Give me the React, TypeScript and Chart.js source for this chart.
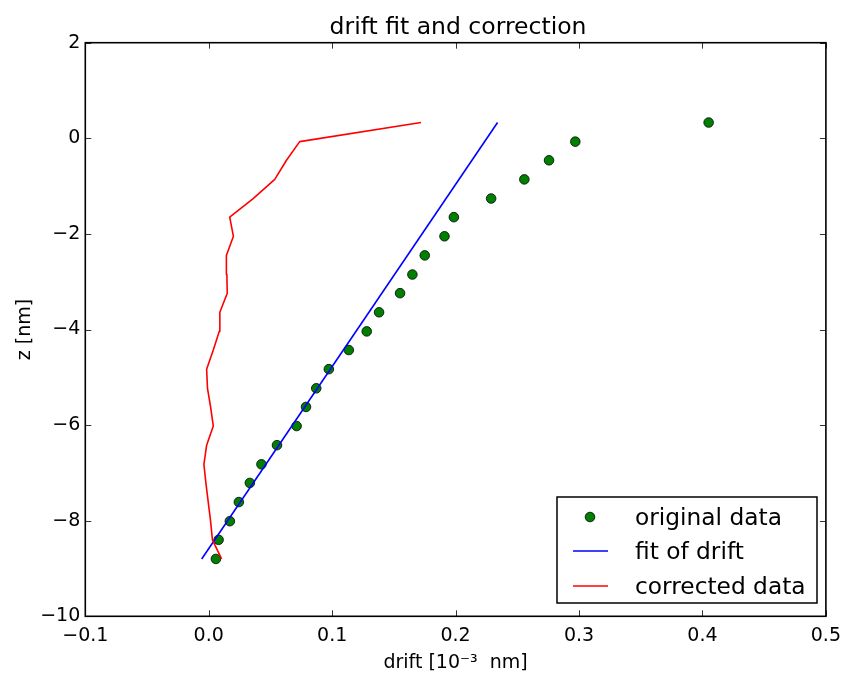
import React, { useEffect, useRef } from "react";
import { Chart, registerables } from "chart.js";

Chart.register(...registerables);

const zValues = [-8.80, -8.40, -8.01, -7.61, -7.21, -6.82, -6.42, -6.02, -5.62, -5.23, -4.83, -4.43, -4.04, -3.64, -3.24, -2.85, -2.45, -2.05, -1.65, -1.26, -0.86, -0.46, -0.07, 0.33];
const originalDrift = [0.0058, 0.008, 0.0171, 0.0244, 0.0333, 0.0427, 0.0553, 0.0712, 0.0788, 0.0871, 0.0973, 0.1135, 0.128, 0.138, 0.155, 0.165, 0.175, 0.191, 0.1986, 0.2288, 0.2557, 0.2757, 0.297, 0.405];
const correctedDrift = [0.0104, 0.003, 0.0015, -0.0004, -0.0023, -0.0039, -0.0017, 0.0037, 0.0015, -0.001, -0.0017, 0.0037, 0.0085, 0.009, 0.015, 0.0147, 0.0143, 0.020, 0.017, 0.036, 0.0535, 0.063, 0.0737, 0.172];
const fitDrift = [-0.0057, 0.234];
const fitZ = [-8.80, 0.33];

const titleText = "drift fit and correction";
const xLabel = "drift [10\u207B\u00B3  nm]";
const yLabel = "z [nm]";
const seriesLabels = ["original data", "fit of drift", "corrected data"];

const FONT = "'DejaVu Sans', 'Liberation Sans', sans-serif";
const fmt = (v: number, digits: number) => {
  const n = Math.abs(v) < 1e-9 ? 0 : v;
  return n.toFixed(digits).replace("-", "\u2212");
};

const decorPlugin = {
  id: "decor",
  afterDatasetsDraw(chart: any) {
    const { ctx, chartArea } = chart;
    const { left, right, top, bottom } = chartArea;
    const xs = chart.scales.x;
    const ys = chart.scales.y;
    ctx.save();
    // inward ticks on all four sides
    ctx.strokeStyle = "#000";
    ctx.lineWidth = 0.8;
    const tl = 6;
    xs.ticks.forEach((t: any) => {
      const px = Math.round(xs.getPixelForValue(t.value)) + 0.5;
      ctx.beginPath();
      ctx.moveTo(px, bottom);
      ctx.lineTo(px, bottom - tl);
      ctx.moveTo(px, top);
      ctx.lineTo(px, top + tl);
      ctx.stroke();
    });
    ys.ticks.forEach((t: any) => {
      const py = Math.round(ys.getPixelForValue(t.value)) + 0.5;
      ctx.beginPath();
      ctx.moveTo(left, py);
      ctx.lineTo(left + tl, py);
      ctx.moveTo(right, py);
      ctx.lineTo(right - tl, py);
      ctx.stroke();
    });
    // frame
    ctx.lineWidth = 1.6;
    ctx.strokeStyle = "#000";
    ctx.strokeRect(left, top, right - left, bottom - top);

    // title & axis labels
    ctx.fillStyle = "#000";
    ctx.textAlign = "center";
    ctx.textBaseline = "alphabetic";
    ctx.font = `23.5px ${FONT}`;
    ctx.fillText(titleText, 458, 34);
    ctx.font = `19px ${FONT}`;
    ctx.fillText(xLabel, (left + right) / 2, 668);
    ctx.save();
    ctx.translate(29.5, (top + bottom) / 2);
    ctx.rotate(-Math.PI / 2);
    ctx.fillText(yLabel, 0, 0);
    ctx.restore();

    // legend
    const bx = 557, by = 497, bw = 260, bh = 106;
    ctx.fillStyle = "#fff";
    ctx.fillRect(bx, by, bw, bh);
    ctx.lineWidth = 1.5;
    ctx.strokeStyle = "#000";
    ctx.strokeRect(bx, by, bw, bh);
    const rows = [517, 551, 586];
    const ds = chart.data.datasets;
    ds.forEach((d: any, i: number) => {
      const ry = rows[i];
      if (d.showLine) {
        ctx.beginPath();
        ctx.strokeStyle = d.borderColor;
        ctx.lineWidth = d.borderWidth;
        ctx.moveTo(573, ry);
        ctx.lineTo(608, ry);
        ctx.stroke();
      } else {
        ctx.beginPath();
        ctx.arc(590, ry, d.pointRadius, 0, Math.PI * 2);
        ctx.fillStyle = d.pointBackgroundColor;
        ctx.fill();
        ctx.lineWidth = d.pointBorderWidth;
        ctx.strokeStyle = d.pointBorderColor;
        ctx.stroke();
      }
      ctx.fillStyle = "#000";
      ctx.textAlign = "left";
      ctx.font = `23.3px ${FONT}`;
      ctx.fillText(d.label, 635, ry + 7.5);
    });
    ctx.restore();
  },
};

export default function App() {
  const ref = useRef<HTMLCanvasElement>(null);
  useEffect(() => {
    if (!ref.current) return;
    const chart = new Chart(ref.current, {
      type: "scatter",
      data: {
        datasets: [
          {
            label: seriesLabels[0],
            data: originalDrift.map((x, i) => ({ x, y: zValues[i] })),
            showLine: false,
            pointRadius: 4.8,
            pointBackgroundColor: "#008000",
            pointBorderColor: "#000",
            pointBorderWidth: 0.8,
            order: 3,
          },
          {
            label: seriesLabels[1],
            data: fitDrift.map((x, i) => ({ x, y: fitZ[i] })),
            showLine: true,
            borderColor: "#0000ff",
            borderWidth: 1.6,
            pointRadius: 0,
            order: 2,
          },
          {
            label: seriesLabels[2],
            data: correctedDrift.map((x, i) => ({ x, y: zValues[i] })),
            showLine: true,
            borderColor: "#ff0000",
            borderWidth: 1.6,
            borderJoinStyle: "round",
            pointRadius: 0,
            order: 1,
          },
        ] as any,
      },
      options: {
        animation: false,
        responsive: false,
        events: [],
        layout: { padding: { top: 42.7, right: 21.5, left: 0, bottom: 0 } },
        plugins: {
          legend: { display: false },
          title: { display: false },
          tooltip: { enabled: false },
        },
        scales: {
          x: {
            type: "linear",
            min: -0.1,
            max: 0.5,
            grid: { display: false, drawTicks: false },
            border: { display: false },
            ticks: {
              stepSize: 0.1,
              padding: 8,
              color: "#000",
              font: { family: FONT, size: 19 },
              maxRotation: 0,
              callback: (v: any) => fmt(Number(v), 1),
            },
            afterFit: (s: any) => {
              s.height = 56.7;
            },
          },
          y: {
            type: "linear",
            min: -10,
            max: 2,
            grid: { display: false, drawTicks: false },
            border: { display: false },
            ticks: {
              stepSize: 2,
              padding: 5,
              color: "#000",
              font: { family: FONT, size: 19 },
              callback: (v: any) => fmt(Math.round(Number(v)), 0),
            },
            afterFit: (s: any) => {
              s.width = 85.3;
            },
          },
        },
      },
      plugins: [decorPlugin],
    });
    return () => chart.destroy();
  }, []);
  return (
    <div style={{ position: "absolute", left: 0, top: 0, width: 849, height: 673, background: "#fff" }}>
      <canvas ref={ref} width={849} height={673} />
    </div>
  );
}
